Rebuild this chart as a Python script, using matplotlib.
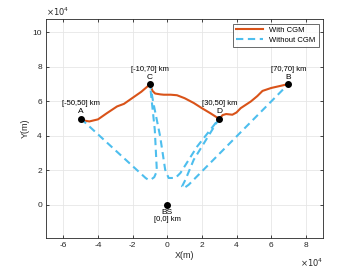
import matplotlib
matplotlib.use('Agg')
import matplotlib.pyplot as plt
import numpy as np
from matplotlib.ticker import FuncFormatter

plt.rcParams['font.family'] = ['Liberation Sans', 'DejaVu Sans']

# waypoints (m)
pts_name = ['A', 'C', 'D', 'B', 'BS']
pts_x = [-5e4, -1e4, 3e4, 7e4, 0]
pts_y = [5e4, 7e4, 5e4, 7e4, 0]
pts_lab = ['[-50,50] km', '[-10,70] km', '[30,50] km', '[70,70] km', '[0,0] km']

# path with CGM
cgm_x = [-5e4, -4.8e4, -4.5e4, -4.0e4, -3.5e4, -2.9e4, -2.5e4, -2.0e4, -1.5e4, -1.0e4,
         -0.85e4, -0.7e4, -0.4e4, -0.2e4, 0.2e4, 0.56e4, 1.0e4, 1.53e4, 2.0e4, 2.5e4,
         3.0e4, 3.2e4, 3.4e4, 3.76e4, 4.0e4, 4.24e4, 4.83e4, 5.2e4, 5.5e4, 6.0e4,
         6.57e4, 7.0e4]
cgm_y = [5e4, 4.88e4, 4.83e4, 4.95e4, 5.3e4, 5.7e4, 5.85e4, 6.2e4, 6.55e4, 6.98e4,
         6.6e4, 6.45e4, 6.4e4, 6.38e4, 6.38e4, 6.35e4, 6.18e4, 5.9e4, 5.6e4, 5.3e4,
         4.98e4, 5.2e4, 5.26e4, 5.22e4, 5.35e4, 5.6e4, 5.99e4, 6.3e4, 6.6e4, 6.77e4,
         6.9e4, 7.0e4]

# path without CGM
nocgm_x = [-5e4, -1.25e4, -1.1e4, -0.95e4, -0.75e4, -0.6e4, -0.72e4, -1.0e4,
           -0.8e4, -0.41e4, -0.12e4, 0.08e4, 0.47e4, 0.76e4, 1.73e4, 3.0e4,
           1.53e4, 1.05e4, 0.85e4, 0.95e4, 1.24e4, 7.0e4]
nocgm_y = [5e4, 1.55e4, 1.45e4, 1.45e4, 1.6e4, 1.95e4, 4.35e4, 7.0e4,
           5.9e4, 3.96e4, 2.03e4, 1.55e4, 1.55e4, 1.84e4, 3.38e4, 5.0e4,
           2.61e4, 1.45e4, 1.05e4, 0.95e4, 1.16e4, 7.0e4]

fig = plt.figure(figsize=(3.57, 2.68), dpi=100)
ax = fig.add_axes([0.129, 0.112, 0.776, 0.817])

ax.plot(cgm_x, cgm_y, color='#D95319', lw=1.5, label='With CGM', zorder=3)
ax.plot(nocgm_x, nocgm_y, color='#4DBEEE', lw=1.5, ls=(0, (3.5, 2.2)), label='Without CGM', zorder=3)
ax.plot(pts_x, pts_y, 'o', color='k', ms=4, zorder=4)

for n, x, y, lab in zip(pts_name, pts_x, pts_y, pts_lab):
    if n == 'BS':
        ax.annotate(n, (x, y), xytext=(0, -5.5), textcoords='offset points',
                    ha='center', va='center', fontsize=6)
        ax.annotate(lab, (x, y), xytext=(0, -11), textcoords='offset points',
                    ha='center', va='center', fontsize=5.5)
    else:
        ax.annotate(n, (x, y), xytext=(0, 4.8), textcoords='offset points',
                    ha='center', va='center', fontsize=6)
        ax.annotate(lab, (x, y), xytext=(0, 10.5), textcoords='offset points',
                    ha='center', va='center', fontsize=5.5)

ax.set_xlim(-7e4, 9e4)
ax.set_ylim(-1.93e4, 10.77e4)
ax.set_xticks(np.arange(-6e4, 9e4, 2e4))
ax.set_yticks(np.arange(0, 11e4, 2e4))
fmt = FuncFormatter(lambda v, p: '%d' % round(v / 1e4))
ax.xaxis.set_major_formatter(fmt)
ax.yaxis.set_major_formatter(fmt)
ax.tick_params(direction='in', length=2.5, width=0.6, labelsize=6, colors='#262626',
               top=True, right=True, pad=3)
for s in ax.spines.values():
    s.set_color('#262626')
    s.set_linewidth(0.6)
ax.grid(True, color='#e6e6e6', lw=0.6)
ax.set_axisbelow(True)

ax.set_xlabel('X(m)', fontsize=6.5, color='#262626', labelpad=1)
ax.set_ylabel('Y(m)', fontsize=6.5, color='#262626', labelpad=2)
ax.text(0.0, 1.005, r'$\times10^{4}$', transform=ax.transAxes, fontsize=6,
        color='#262626', ha='left', va='bottom')
ax.text(1.0, -0.085, r'$\times10^{4}$', transform=ax.transAxes, fontsize=6,
        color='#262626', ha='right', va='top')

leg = ax.legend(loc='upper right', fontsize=5.5, frameon=True, fancybox=False,
                edgecolor='#262626', borderpad=0.4, handlelength=3.5,
                labelspacing=0.3, borderaxespad=0.6)
leg.get_frame().set_linewidth(0.6)

fig.savefig('out.png', dpi=100)
